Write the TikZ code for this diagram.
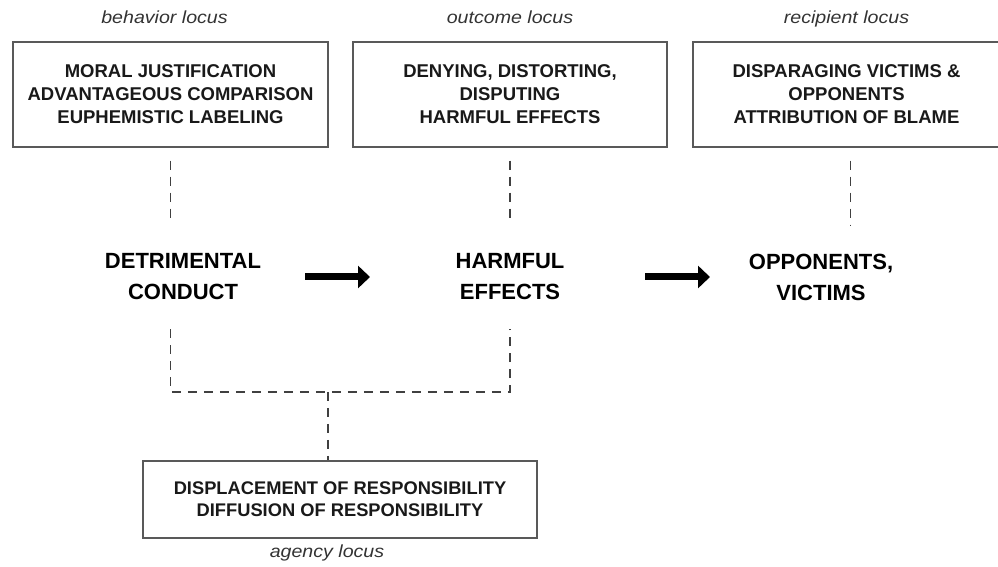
\documentclass[tikz,border=0pt]{standalone}
\usepackage{fontspec}
\setmainfont{Liberation Sans}
\newfontfamily\widesans[FakeStretch=1.12]{Liberation Sans}
\usetikzlibrary{positioning,arrows.meta}

\begin{document}
\begin{tikzpicture}[
			x=1pt, y=1pt
			,box/.style={draw=black!65, line width=1.4pt, inner sep=0pt, align=center, text=black!90, font=\fontsize{18.5}{23}\selectfont\bfseries}
			,locus/.style={inner sep=0pt, text height=12pt, text depth=0pt, text=black!80, font=\widesans\fontsize{17.5}{20}\selectfont\itshape}
			,main/.style={inner sep=0pt, align=center, font=\fontsize{22}{31}\selectfont\bfseries}
			,dashlink/.style={draw=black!75, line width=1.1pt, dash pattern=on 9pt off 7pt}
			,fat/.style={line width=7pt, -{Triangle[length=12pt,width=22pt]}}
		]
			\useasboundingbox (0,0) rectangle (998,567);
			% mechanisms
			\node [box, minimum width=315pt, minimum height=105pt] (beh) at (170.5,472.5)
				{MORAL JUSTIFICATION\\ADVANTAGEOUS COMPARISON\\EUPHEMISTIC LABELING};
			\node [box, minimum width=314pt, minimum height=105pt] (out) at (510,472.5)
				{DENYING, DISTORTING,\\DISPUTING\\HARMFUL EFFECTS};
			\node [box, minimum width=307pt, minimum height=105pt] (rec) at (846.5,472.5)
				{DISPARAGING VICTIMS \&\\OPPONENTS\\ATTRIBUTION OF BLAME};
			\node [box, minimum width=394pt, minimum height=77pt, font=\fontsize{18.3}{22}\selectfont\bfseries] (ag) at (340,67.5)
				{DISPLACEMENT OF RESPONSIBILITY\\DIFFUSION OF RESPONSIBILITY};
			% loci
			\node [locus, above=18pt of beh, xshift=-6pt] (behl) {behavior locus};
			\node [locus, above=18pt of out] (outl) {outcome locus};
			\node [locus, above=18pt of rec] (recl) {recipient locus};
			\node [locus, below=7pt of ag, xshift=-13pt] (agl) {agency locus};
			% chain
			\node [main] (det) at (183,290) {DETRIMENTAL\\CONDUCT};
			\node [main] (harm) at (510,290) {HARMFUL\\EFFECTS};
			\node [main] (opp) at (821,290) {OPPONENTS,\\VICTIMS};
			\draw [fat, shorten <=122pt, shorten >=140pt] (det.center) -- (harm.center);
			\draw [fat, shorten <=135pt, shorten >=111pt] (harm.center) -- (opp.center);
			% dashed links
			\draw [dashlink, shorten <=13pt, shorten >=33pt] (beh.south) -- (beh.south |- det.north);
			\draw [dashlink, shorten <=13pt, shorten >=33pt] (out.south) -- (out.south |- harm.north);
			\draw [dashlink, shorten <=13pt, shorten >=28pt] ([xshift=4pt]rec.south) -- ([xshift=4pt]rec.south |- opp.north);
			\coordinate (j) at (328,175);
			\draw [dashlink, shorten <=29pt, shorten >=29pt] (beh.south |- det.south) -- (beh.south |- j) -- (out.south |- j) -- (out.south |- harm.south);
			\draw [dashlink] (j) -- (j |- ag.north);
		\end{tikzpicture}
\end{document}
